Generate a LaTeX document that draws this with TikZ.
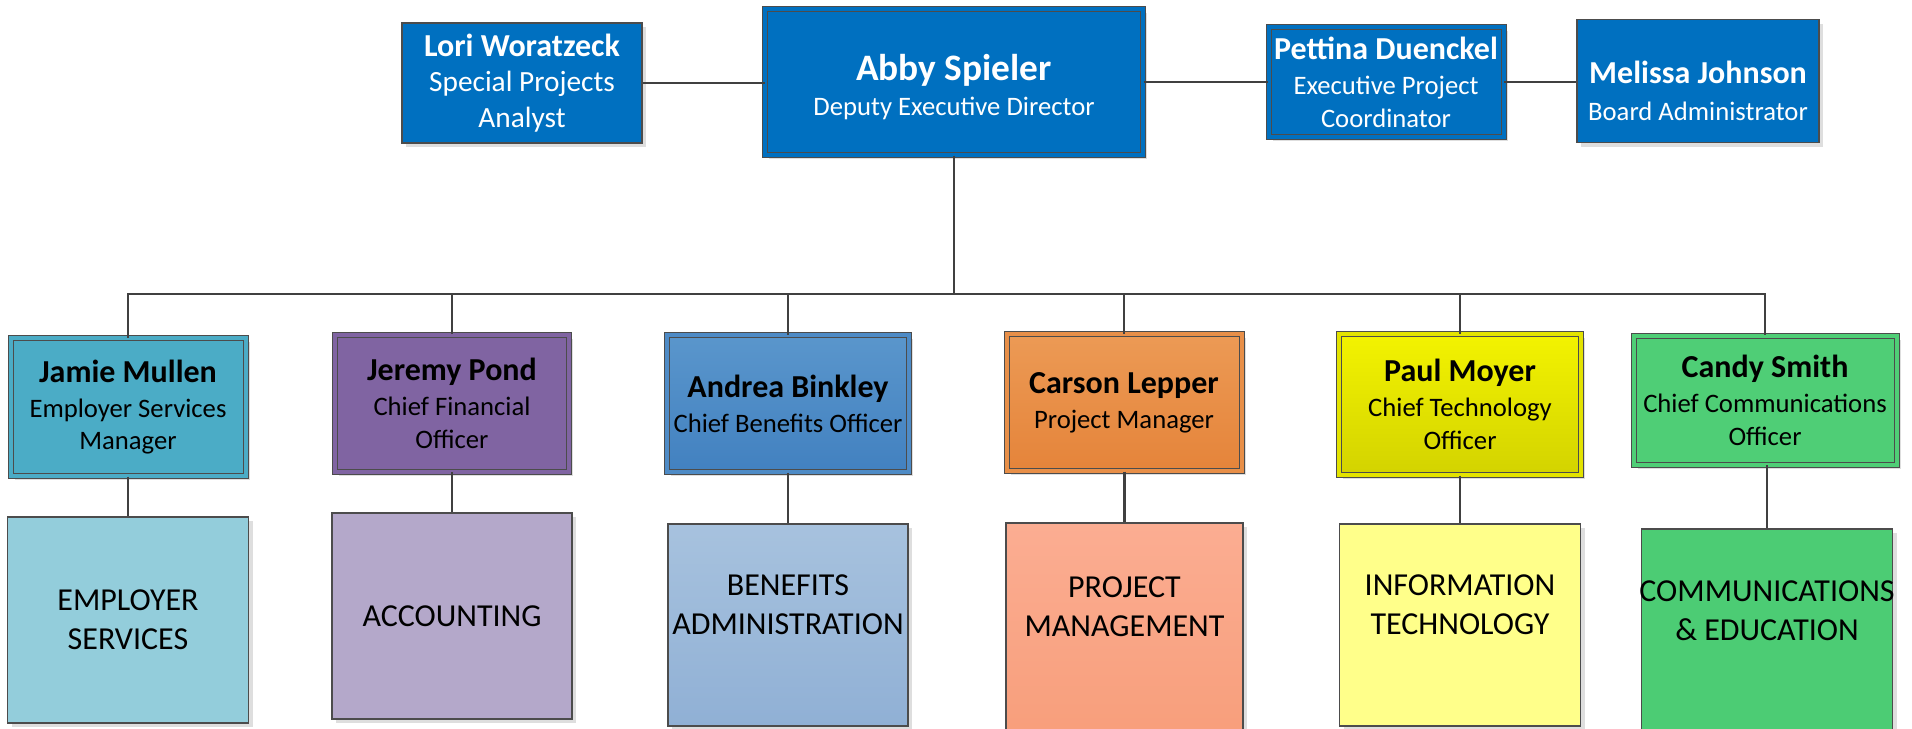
\documentclass[tikz,border=0pt]{standalone}
\usepackage{fontspec}
\setmainfont{Carlito}
\usepackage{xcolor}
\usetikzlibrary{positioning,shadows}

\definecolor{topblue}{HTML}{0070C0}
\definecolor{linkgray}{HTML}{404040}
\definecolor{tealbox}{HTML}{4BACC6}
\definecolor{tealdept}{HTML}{93CDDB}
\definecolor{purplebox}{HTML}{8064A2}
\definecolor{purpledept}{HTML}{B4A8CA}
\definecolor{bluetop}{HTML}{5A96CC}
\definecolor{bluebot}{HTML}{4281C0}
\definecolor{bluedepttop}{HTML}{A7C2DE}
\definecolor{bluedeptbot}{HTML}{90B0D5}
\definecolor{orangetop}{HTML}{EC9A55}
\definecolor{orangebot}{HTML}{E5843A}
\definecolor{salmontop}{HTML}{FBAD92}
\definecolor{salmonbot}{HTML}{F79B76}
\definecolor{yellowtop}{HTML}{F3F300}
\definecolor{yellowbot}{HTML}{D3D300}
\definecolor{yellowdept}{HTML}{FFFF8A}
\definecolor{greenbox}{HTML}{4FCE76}
\definecolor{greendept}{HTML}{4CCC74}

\tikzset{
  boxsize/.style 2 args={minimum width=#1*0.75pt, minimum height=#2*0.75pt},
  orgbox/.style={draw=black!70, line width=1.1pt, inner sep=2pt, align=center,
    font=\fontsize{20}{24.4}\selectfont,
    drop shadow={shadow xshift=3pt, shadow yshift=-3pt, fill=black!13, opacity=1}},
  dblbox/.style={orgbox, line width=0.75pt, double distance=3pt, double=#1, fill=#1},
  topbox/.style={orgbox, fill=topblue, text=white},
  deptbox/.style={orgbox, line width=0.9pt},
  depttext/.style={font=\fontsize{24}{29}\selectfont, align=center, anchor=center, inner sep=0pt},
  link/.style={draw=linkgray, line width=1.6pt},
}
\newcommand{\staffname}[1]{{\fontsize{24}{24.4}\selectfont\bfseries #1}\\[2pt]}
\newcommand{\headname}[1]{{\fontsize{28}{28}\selectfont\bfseries\rule{0pt}{27pt}#1}\\[2pt]}

\begin{document}
\begin{tikzpicture}[x=0.75pt, y=-0.75pt]
    % org chart, units in pixels
    \clip (0,0) rectangle (1912,728);

    \node[topbox, font=\fontsize{22}{26.8}\selectfont, boxsize={240}{120}] (lori) at (522,83)
        {{\fontsize{24}{24.4}\selectfont\bfseries Lori Woratzeck}\\Special Projects\\Analyst};
    \node[dblbox=topblue, text=white, boxsize={378}{146}] (abby) at (954,82) {\headname{Abby Spieler}Deputy Executive Director};
    \node[dblbox=topblue, text=white, boxsize={235}{110}] (pettina) at (1386,82) {\staffname{Pettina Duenckel}Executive Project\\Coordinator};
    \node[topbox, boxsize={242}{123}] (melissa) at (1698,81)
        {{\fontsize{24}{24.4}\selectfont\bfseries\rule{0pt}{31pt}Melissa Johnson}\\[3.3pt]Board Administrator};

    \node[dblbox=tealbox, boxsize={235}{138}] (jamie) at (128,407) {\staffname{Jamie Mullen}Employer Services\\Manager};
    \node[dblbox=purplebox, boxsize={234}{137}] (jeremy) at (452,403) {\staffname{Jeremy Pond}Chief Financial\\Officer};
    \node[dblbox=bluebot!50!bluetop, top color=bluetop, bottom color=bluebot, boxsize={242}{137}] (andrea) at (788,403.5) {\staffname{Andrea Binkley}Chief Benefits Officer};
    \node[dblbox=orangebot!50!orangetop, top color=orangetop, bottom color=orangebot, boxsize={235}{137}] (carson) at (1124,402.5) {\staffname{Carson Lepper}Project Manager};
    \node[dblbox=yellowbot!50!yellowtop, top color=yellowtop, bottom color=yellowbot, boxsize={242}{141}] (paul) at (1460,404.5) {\staffname{Paul Moyer}Chief Technology\\Officer};
    \node[dblbox=greenbox, boxsize={263}{129}] (candy) at (1765,400) {\staffname{Candy Smith}Chief Communications\\Officer};

    \node[deptbox, fill=tealdept, boxsize={241}{206},
      label={[depttext, label distance=-77.25pt]north:{EMPLOYER\\SERVICES}}] (empsvc) at (128,620) {};
    \node[deptbox, fill=purpledept, boxsize={240}{206},
      label={[depttext, label distance=-78pt]north:{ACCOUNTING}}] (acct) at (452,616) {};
    \node[deptbox, top color=bluedepttop, bottom color=bluedeptbot, boxsize={240}{202},
      label={[depttext, label distance=-61.1pt]north:{BENEFITS\\ADMINISTRATION}}] (benadm) at (788,625) {};
    \node[deptbox, top color=salmontop, bottom color=salmonbot, boxsize={237}{260},
      label={[depttext, label distance=-63pt]north:{PROJECT\\MANAGEMENT}}] (projmgmt) at (1124.5,653) {};
    \node[deptbox, fill=yellowdept, boxsize={241}{202},
      label={[depttext, label distance=-61.1pt]north:{INFORMATION\\TECHNOLOGY}}] (infotech) at (1460,625) {};
    \node[deptbox, fill=greendept, boxsize={251}{260},
      label={[depttext, label distance=-61.9pt]north:{COMMUNICATIONS\\\& EDUCATION}}] (commed) at (1767,659) {};

    \draw[link] (lori.east) -- (lori.east -| abby.west);
    \draw[link] (abby.east) -- (abby.east -| pettina.west);
    \draw[link] (pettina.east) -- (pettina.east -| melissa.west);

    \coordinate (bus) at (954,294);
    \draw[link] (abby.south) -- (bus);
    \foreach \n in {jamie,jeremy,andrea,carson,paul,candy}
        \draw[link] (bus) -| (\n.north);
    \foreach \a/\b in {jamie/empsvc,jeremy/acct,andrea/benadm,carson/projmgmt,paul/infotech,candy/commed}
        \draw[link] (\b.north |- \a.south) -- (\b.north);
\end{tikzpicture}
\end{document}
